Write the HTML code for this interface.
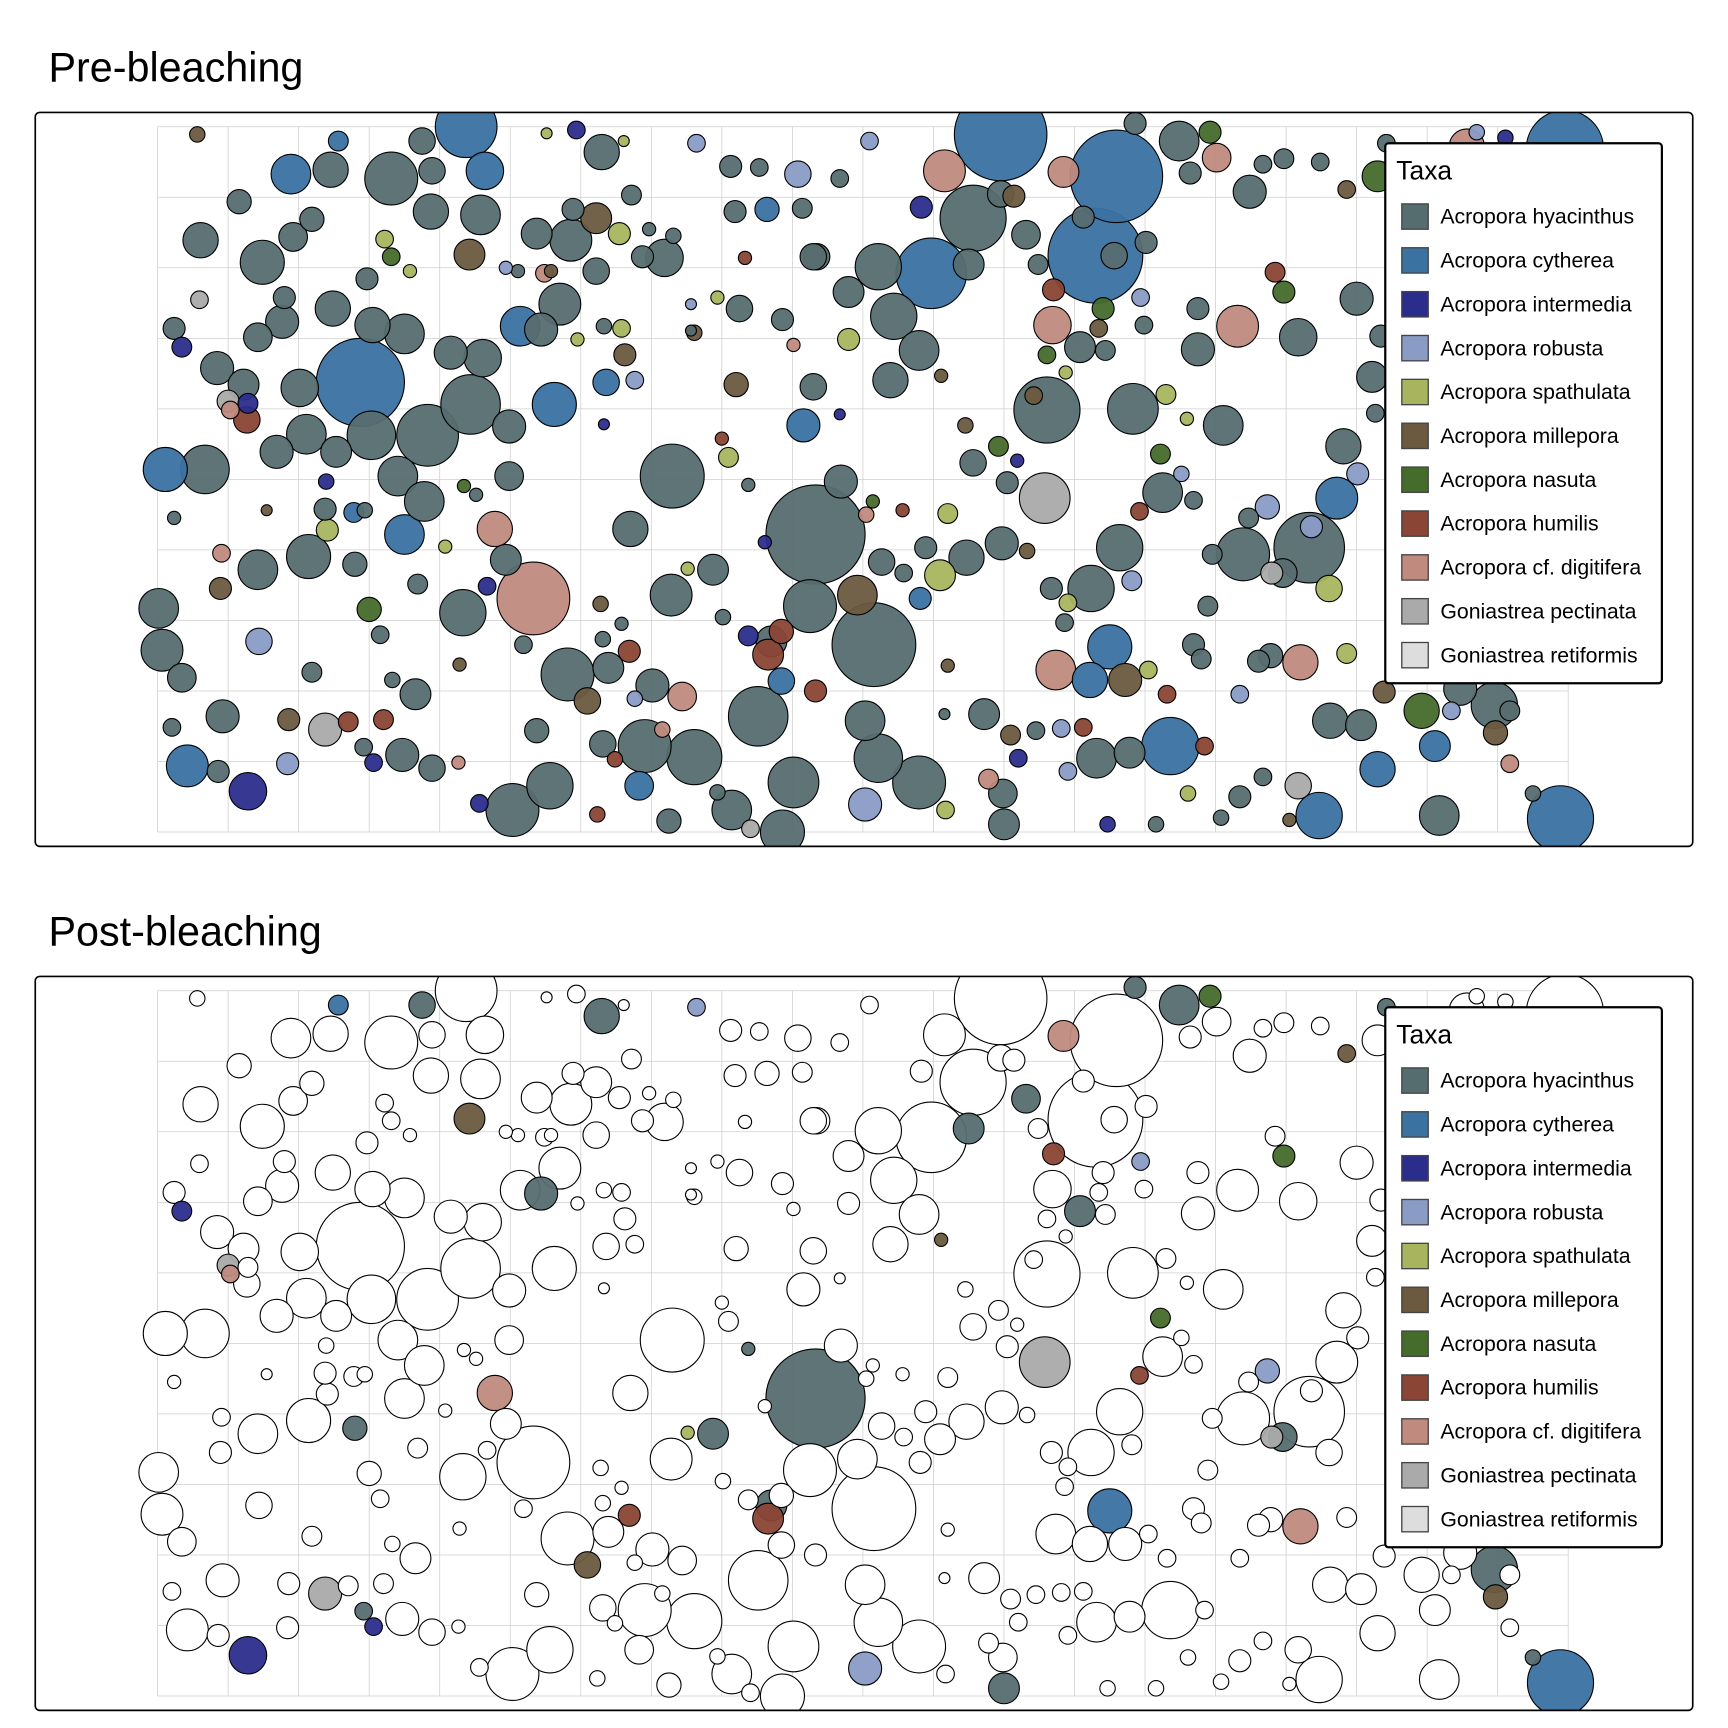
<!DOCTYPE html>
<html><head><meta charset="utf-8"><style>
html,body{margin:0;padding:0;background:#fff}
svg{display:block}
text{font-family:"Liberation Sans",Arial,sans-serif}
</style></head><body>
<svg id="s" width="1728" height="1728" viewBox="0 0 1568 1568" xmlns="http://www.w3.org/2000/svg">
<defs>
<clipPath id="c1"><rect x="32" y="102" width="1504" height="666" rx="4"/></clipPath>
<clipPath id="c2"><rect x="32" y="886" width="1504" height="666" rx="4"/></clipPath>
</defs>
<text x="44" y="74" font-size="37.5">Pre-bleaching</text>
<text x="44" y="858" font-size="37.5">Post-bleaching</text>
<g id="p1"></g><g id="p2"></g>
</svg>
<script>
var col={H:"#566d70",C:"#3a72a2",I:"#2b2d8c",R:"#8a9cc6",S:"#a8b55e",M:"#6b5a40",N:"#466c2c",U:"#8a4535",D:"#c08a7e",P:"#aaaaaa",G:"#dddddd"};
var d=[[423,115,28,"C"],[908,122,42,"C"],[1013,160,42,"C"],[994,232,43,"C"],[845,248,32,"C"],[327,347,40,"C"],[1420,135,35,"C"],[1416,743,30,"C"],
[740,485,45,"H"],[793,585,38,"H"],[610,432,29,"H"],[883,198,30,"H"],[355,162,24,"H"],[388,395,28,"H"],[427,367,27,"H"],[238,238,20,"H"],[186,426,22,"H"],[150,426,20,"C"],[144,552,18,"H"],[147,590,19,"H"],[515,612,24,"H"],[688,650,27,"H"],[630,687,25,"H"],[585,677,24,"H"],[720,710,23,"H"],[834,710,24,"H"],[664,735,18,"H"],[710,755,20,"H"],[465,735,24,"H"],[499,713,21,"H"],[420,556,21,"H"],[484,543,33,"D"],[1188,497,32,"H"],[1128,503,24,"H"],[950,372,30,"H"],[1028,371,23,"H"],[1016,497,21,"H"],[990,534,21,"H"],[797,688,22,"H"],[785,654,18,"H"],[609,540,19,"H"],[735,550,24,"H"],[948,452,23,"P"],[1062,677,26,"C"],[1007,587,20,"C"],[1213,452,19,"C"],[1197,740,21,"C"],[170,695,19,"C"],[503,367,20,"C"],[367,485,18,"C"],[472,296,18,"C"],[440,155,17,"C"],[264,158,18,"C"],[729,386,15,"C"],[1070,128,18,"H"],[1055,447,18,"H"],[1110,386,18,"H"],[1087,317,15,"H"],[1123,296,19,"D"],[955,295,17,"D"],[958,608,18,"D"],[1180,601,16,"D"],[1245,342,14,"H"],[1219,405,16,"H"],[1231,271,15,"H"],[1178,306,17,"H"],[1134,174,15,"H"],[1356,640,21,"H"],[1306,740,18,"H"],[1290,645,16,"N"],[1250,698,16,"C"],[1302,677,14,"C"],[1207,654,16,"H"],[1235,658,14,"H"],[1021,617,15,"M"],[989,617,16,"C"],[995,688,18,"H"],[1025,683,14,"H"],[893,648,14,"H"],[911,748,14,"H"],[910,720,13,"H"],[857,155,19,"D"],[965,156,14,"D"],[811,287,21,"H"],[834,318,18,"H"],[797,242,21,"H"],[741,233,12,"H"],[808,345,16,"H"],[770,265,14,"H"],[879,240,14,"H"],[931,213,13,"H"],[908,176,12,"H"],[546,138,16,"H"],[518,218,19,"H"],[508,276,19,"H"],[491,299,15,"H"],[541,198,14,"M"],[603,234,17,"H"],[572,480,16,"H"],[647,517,14,"H"],[462,432,13,"H"],[462,387,15,"H"],[438,325,17,"H"],[409,320,15,"H"],[367,303,18,"H"],[338,295,16,"H"],[302,280,16,"H"],[272,352,17,"H"],[278,394,18,"H"],[251,410,15,"H"],[305,410,14,"H"],[337,395,22,"H"],[361,432,18,"H"],[385,455,18,"H"],[280,505,20,"H"],[234,517,18,"H"],[322,512,11,"H"],[449,480,16,"D"],[459,508,14,"H"],[552,606,14,"H"],[592,622,15,"H"],[619,632,13,"D"],[547,675,12,"H"],[580,713,13,"C"],[607,745,11,"H"],[533,636,12,"M"],[487,663,11,"H"],[377,630,14,"H"],[365,685,15,"H"],[392,697,12,"H"],[295,662,15,"P"],[202,650,15,"H"],[225,718,17,"I"],[156,660,8,"H"],[198,700,10,"H"],[262,653,10,"M"],[316,655,9,"U"],[348,653,9,"U"],[330,678,8,"H"],[339,692,8,"I"],[261,693,10,"R"],[235,582,12,"R"],[165,615,13,"H"],[200,534,10,"M"],[201,502,8,"D"],[297,481,10,"S"],[295,462,10,"H"],[335,553,11,"N"],[345,576,8,"H"],[283,610,9,"H"],[379,530,9,"H"],[296,437,7,"I"],[224,381,12,"U"],[221,349,14,"H"],[207,364,10,"P"],[197,334,15,"H"],[234,306,13,"H"],[256,292,15,"H"],[158,298,10,"H"],[165,315,9,"I"],[182,218,16,"H"],[217,183,11,"H"],[266,215,13,"H"],[283,199,11,"H"],[300,154,16,"H"],[307,128,9,"C"],[383,128,12,"H"],[391,192,16,"H"],[392,155,12,"H"],[436,195,18,"H"],[426,231,14,"M"],[487,212,14,"H"],[520,190,10,"H"],[562,212,10,"S"],[541,246,12,"H"],[573,177,9,"H"],[583,233,10,"H"],[632,130,8,"R"],[663,151,10,"H"],[689,152,8,"H"],[724,158,12,"R"],[696,190,11,"C"],[667,192,10,"H"],[728,189,9,"H"],[738,233,12,"H"],[762,162,8,"H"],[789,128,8,"R"],[836,188,10,"I"],[1030,112,10,"H"],[1098,120,10,"N"],[1104,143,13,"D"],[1080,157,10,"H"],[1146,149,8,"H"],[1165,144,9,"H"],[1198,147,8,"H"],[1222,172,8,"M"],[1157,247,9,"U"],[1165,265,10,"N"],[1040,220,10,"H"],[1087,280,10,"H"],[1038,295,8,"H"],[1035,270,8,"R"],[980,315,14,"H"],[1003,318,9,"H"],[920,178,10,"M"],[983,197,10,"H"],[1011,232,12,"H"],[938,359,8,"M"],[914,438,10,"H"],[883,420,12,"H"],[877,506,16,"H"],[853,522,14,"S"],[909,493,15,"H"],[860,466,9,"S"],[840,497,10,"H"],[800,510,12,"H"],[778,540,18,"M"],[763,437,15,"H"],[835,543,10,"C"],[820,520,8,"H"],[700,582,14,"H"],[697,594,14,"U"],[709,573,11,"U"],[709,618,12,"C"],[679,577,9,"I"],[740,627,10,"U"],[785,730,15,"R"],[858,735,8,"S"],[897,707,9,"D"],[924,688,8,"I"],[917,667,9,"M"],[940,663,8,"H"],[963,661,8,"R"],[983,660,8,"U"],[969,700,8,"R"],[1005,748,7,"I"],[1049,748,7,"H"],[1093,677,8,"U"],[1078,720,7,"S"],[1125,723,10,"H"],[1108,742,7,"H"],[1170,744,6,"M"],[1178,713,12,"P"],[1146,705,8,"H"],[1125,630,8,"R"],[1090,598,9,"H"],[1083,585,10,"H"],[1042,608,8,"S"],[1142,600,10,"H"],[1153,595,11,"H"],[1154,520,10,"P"],[1206,534,12,"S"],[1222,593,9,"S"],[1190,478,10,"R"],[1150,460,11,"R"],[1133,470,9,"H"],[1100,503,9,"H"],[1059,630,8,"U"],[1096,550,9,"H"],[1357,665,11,"M"],[1370,693,8,"D"],[1391,720,7,"H"],[1370,645,9,"H"],[1325,625,15,"H"],[1317,645,8,"R"],[1256,628,10,"M"],[1253,305,10,"H"],[1248,375,8,"H"],[1232,430,10,"R"],[1250,160,14,"N"],[1258,130,8,"H"],[1331,133,16,"D"],[1366,125,7,"I"],[1340,120,7,"R"],[950,322,8,"N"],[967,338,6,"S"],[956,263,10,"U"],[942,240,9,"H"],[997,298,8,"M"],[1001,280,10,"N"],[1058,358,9,"S"],[1077,380,6,"S"],[1053,412,9,"N"],[1072,430,7,"R"],[1083,454,8,"H"],[1164,520,13,"H"],[1027,527,9,"R"],[1034,464,8,"U"],[966,565,8,"H"],[969,547,8,"S"],[954,534,10,"H"],[932,500,7,"M"],[179,122,7,"M"],[523,118,8,"I"],[566,128,5,"S"],[496,121,5,"S"],[349,217,8,"S"],[355,233,8,"N"],[333,253,10,"H"],[372,246,6,"S"],[181,272,8,"P"],[258,270,10,"H"],[225,366,9,"I"],[209,372,8,"D"],[158,470,6,"H"],[242,463,5,"M"],[321,465,9,"C"],[331,463,7,"H"],[404,496,6,"S"],[421,441,6,"N"],[442,532,8,"I"],[432,449,6,"H"],[545,548,7,"M"],[547,580,7,"H"],[571,591,10,"U"],[564,566,6,"H"],[417,603,6,"M"],[475,585,8,"H"],[576,634,7,"R"],[601,662,7,"D"],[558,689,7,"U"],[651,719,7,"H"],[681,752,8,"P"],[542,739,7,"U"],[435,729,8,"I"],[416,692,6,"D"],[356,617,7,"H"],[656,560,7,"H"],[661,415,9,"S"],[655,398,6,"U"],[679,440,6,"H"],[624,516,6,"S"],[694,492,6,"I"],[792,455,6,"N"],[819,463,6,"U"],[786,467,7,"D"],[860,604,6,"M"],[857,648,5,"H"],[876,386,7,"M"],[906,405,9,"N"],[923,418,6,"I"],[854,341,6,"M"],[630,302,7,"M"],[548,296,7,"H"],[564,298,8,"S"],[567,322,10,"M"],[576,345,8,"R"],[550,347,12,"C"],[524,308,6,"S"],[548,385,5,"I"],[668,349,11,"M"],[738,351,12,"H"],[720,313,6,"D"],[770,308,10,"S"],[710,290,10,"H"],[671,280,12,"H"],[651,270,6,"S"],[627,300,5,"H"],[676,234,6,"U"],[627,276,5,"R"],[762,376,5,"I"],[589,208,6,"H"],[611,214,7,"H"],[470,246,6,"H"],[459,243,6,"R"],[500,246,6,"M"],[494,248,8,"D"]];
var ns="http://www.w3.org/2000/svg";
function el(t,a,p){var e=document.createElementNS(ns,t);for(var k in a)e.setAttribute(k,a[k]);p.appendChild(e);return e;}
var names=[["H","Acropora hyacinthus"],["C","Acropora cytherea"],["I","Acropora intermedia"],["R","Acropora robusta"],["S","Acropora spathulata"],["M","Acropora millepora"],["N","Acropora nasuta"],["U","Acropora humilis"],["D","Acropora cf. digitifera"],["P","Goniastrea pectinata"],["G","Goniastrea retiformis"]];
var keep=[[305,128],[383,128],[546,138],[632,130],[1030,112],[1070,128],[1098,120],[1258,130],[965,156],[931,213],[255,377],[165,315],[426,231],[500,303],[360,379],[207,364],[449,480],[448,453],[1165,265],[956,263],[783,270],[980,316],[808,324],[857,349],[1218,384],[1053,412],[948,452],[927,474],[740,485],[679,438],[1150,459],[1034,462],[1154,520],[1007,587],[1180,601],[697,594],[703,554],[647,516],[617,509],[322,512],[295,662],[225,718],[339,692],[1356,640],[1357,665],[1416,743],[785,730],[533,636],[1391,720],[911,748],[919,627],[571,591],[1222,172],[882,238],[1035,270]];
function isKeep(c){for(var i=0;i<keep.length;i++){var k=keep[i];if(Math.abs(k[0]-c[0])<12&&Math.abs(k[1]-c[1])<16)return true;}return false;}
function panel(g,oy,post){
  var s=document.getElementById(g);
  el("rect",{x:32,y:102+oy,width:1504,height:666,rx:4,fill:"#fff"},s);
  var gg=el("g",{"clip-path":"url(#c"+(post?2:1)+")"},s);
  for(var i=0;i<=20;i++)el("line",{x1:143+64*i,y1:115+oy,x2:143+64*i,y2:755+oy,stroke:"#cfcfcf","stroke-width":0.7},gg);
  for(var j=0;j<=10;j++)el("line",{x1:143,y1:115+oy+64*j,x2:1423,y2:115+oy+64*j,stroke:"#cfcfcf","stroke-width":0.7},gg);
  var arr=d.slice().sort(function(a,b){return b[2]-a[2];});
  arr.forEach(function(c){var f=col[c[3]];if(post&&!isKeep(c))f="#fff";
    el("circle",{cx:c[0],cy:c[1]+oy,r:c[2],fill:f,"fill-opacity":f=="#fff"?1:0.95,stroke:"#000","stroke-width":1},gg);});
  el("rect",{x:32,y:102+oy,width:1504,height:666,rx:4,fill:"none",stroke:"#000","stroke-width":1.5},s);
  el("rect",{x:1257,y:130+oy,width:251,height:490,rx:3,fill:"#fff",stroke:"#000","stroke-width":2},s);
  var t=el("text",{x:1267,y:163+oy,"font-size":24},s);t.textContent="Taxa";
  names.forEach(function(n,i){var y=196+oy+39.8*i;
    el("rect",{x:1272,y:y-11,width:24,height:23,fill:col[n[0]],stroke:"#444","stroke-width":1.2},s);
    var tt=el("text",{x:1307,y:y+7,"font-size":19.3},s);tt.textContent=n[1];});
}
panel("p1",0,false);panel("p2",784,true);
</script>
</body></html>
